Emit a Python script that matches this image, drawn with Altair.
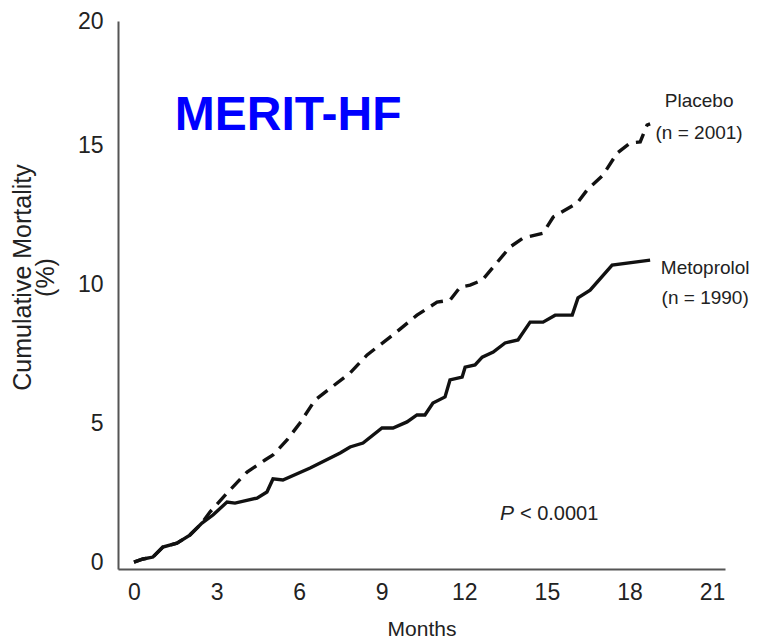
import altair as alt
import pandas as pd

# ---- data ----
months_meto = [0, 0.33, 0.69, 1.05, 1.56, 2.03, 2.47, 2.87, 3.38, 3.67, 4.47, 4.83, 5.05, 5.41,
               6.40, 7.49, 7.85, 8.32, 9.01, 9.41, 9.92, 10.28, 10.57, 10.86, 11.30, 11.48,
               11.92, 12.03, 12.39, 12.65, 13.05, 13.48, 13.95, 14.39, 14.86, 15.30, 15.92,
               16.13, 16.57, 17.37, 18.75]
mort_meto = [0, 0.11, 0.18, 0.54, 0.68, 0.97, 1.40, 1.69, 2.16, 2.12, 2.30, 2.52, 2.99, 2.95,
             3.38, 3.92, 4.14, 4.28, 4.82, 4.82, 5.04, 5.29, 5.29, 5.72, 5.94, 6.55,
             6.65, 7.01, 7.09, 7.37, 7.55, 7.88, 7.99, 8.63, 8.63, 8.88, 8.88,
             9.50, 9.78, 10.68, 10.86]

months_plac = [0, 0.33, 0.69, 1.05, 1.56, 2.03, 2.47, 2.76, 3.38, 4.11, 4.76, 5.05, 5.56, 6.03,
               6.58, 7.85, 8.47, 9.41, 10.28, 11.01, 11.48, 11.85, 12.21, 12.65, 13.05, 13.66,
               14.13, 14.86, 15.23, 16.10, 16.46, 17.04, 17.55, 18.02, 18.39, 18.64, 18.75]
mort_plac = [0, 0.11, 0.18, 0.54, 0.68, 0.97, 1.40, 1.80, 2.48, 3.24, 3.67, 3.85, 4.39, 5.00,
             5.83, 6.80, 7.45, 8.17, 8.88, 9.35, 9.42, 9.89, 9.96, 10.14, 10.61, 11.33,
             11.65, 11.83, 12.41, 12.91, 13.38, 13.92, 14.71, 15.07, 15.11, 15.72, 15.76]

x_ticks = [0, 3, 6, 9, 12, 15, 18, 21]
y_ticks = [0, 5, 10, 15]
y_top = 19.46
y_top_label = "20"

series_labels = ["Placebo", "(n = 2001)", "Metoprolol", "(n = 1990)"]
series_label_m = [20.53, 20.53, 20.75, 20.75]
series_label_v = [16.58, 15.43, 10.58, 9.50]

title_text = ["MERIT-HF"]
title_m = [5.60]
title_v = [15.54]

p_text = ["P", "< 0.0001"]
p_m = [13.30, 14.02]
p_v = [1.73, 1.73]

FONT = "Liberation Sans, Arial, Helvetica, sans-serif"
TXT = "#222222"

xs = alt.Scale(domain=[-0.58, 21.47], nice=False, zero=False)
ys = alt.Scale(domain=[-0.25, y_top], nice=False, zero=False)

x_axis = alt.Axis(values=x_ticks, title="Months", grid=False, tickSize=0, ticks=False,
                  domainColor="#555555", domainWidth=2, labelFont=FONT, labelFontSize=23,
                  labelColor=TXT, labelPadding=12, labelFlush=False,
                  titleFont=FONT, titleFontSize=21, titleFontWeight="normal", titleColor=TXT,
                  titleBaseline="alphabetic", titleY=66)
y_axis = alt.Axis(values=y_ticks + [y_top],
                  labelExpr=f"datum.value > 19 ? '{y_top_label}' : datum.label",
                  title=["Cumulative Mortality", "(%)"], grid=False, tickSize=0, ticks=False,
                  domainColor="#555555", domainWidth=2, labelFont=FONT, labelFontSize=23,
                  labelColor=TXT, labelPadding=15, labelFlush=False,
                  titleFont=FONT, titleFontSize=25, titleFontWeight="normal", titleColor=TXT,
                  titleAngle=-90, titleAlign="center", titleBaseline="middle",
                  titleLineHeight=23, titleX=-96, titleY=256)

X = alt.X("m:Q", scale=xs, axis=x_axis)
Y = alt.Y("v:Q", scale=ys, axis=y_axis)

meto = pd.DataFrame({"m": months_meto, "v": mort_meto})
plac = pd.DataFrame({"m": months_plac, "v": mort_plac})
lab = pd.DataFrame({"m": series_label_m, "v": series_label_v, "t": series_labels})
ttl = pd.DataFrame({"m": title_m, "v": title_v, "t": title_text})
pdf = pd.DataFrame({"m": p_m, "v": p_v, "t": p_text})

line_m = alt.Chart(meto).mark_line(color="#111111", strokeWidth=3.4).encode(x=X, y=Y)
line_p = alt.Chart(plac).mark_line(color="#111111", strokeWidth=3.4, strokeDash=[13, 8]).encode(x=X, y=Y)

txt_lab = alt.Chart(lab).mark_text(font=FONT, fontSize=19, color=TXT, align="center",
                                   baseline="middle").encode(x=X, y=Y, text="t:N")
txt_ttl = alt.Chart(ttl).mark_text(font=FONT, fontSize=48, fontWeight="bold", color="#0000ff",
                                   align="center", baseline="alphabetic").encode(x=X, y=Y, text="t:N")
txt_p1 = alt.Chart(pdf.iloc[[0]]).mark_text(font=FONT, fontSize=21, fontStyle="italic", color=TXT,
                                            align="left", baseline="middle").encode(x=X, y=Y, text="t:N")
txt_p2 = alt.Chart(pdf.iloc[[1]]).mark_text(font=FONT, fontSize=20, color=TXT,
                                            align="left", baseline="middle").encode(x=X, y=Y, text="t:N")

chart = alt.layer(line_m, line_p, txt_lab, txt_ttl, txt_p1, txt_p2).properties(
    width=607, height=548,
    autosize=alt.AutoSizeParams(type="none"),
    padding={"left": 110, "top": 13, "right": 26, "bottom": 70},
    background="white",
).configure_view(stroke=None)

chart.save("out.html", embed_options={"renderer": "svg", "actions": False})
